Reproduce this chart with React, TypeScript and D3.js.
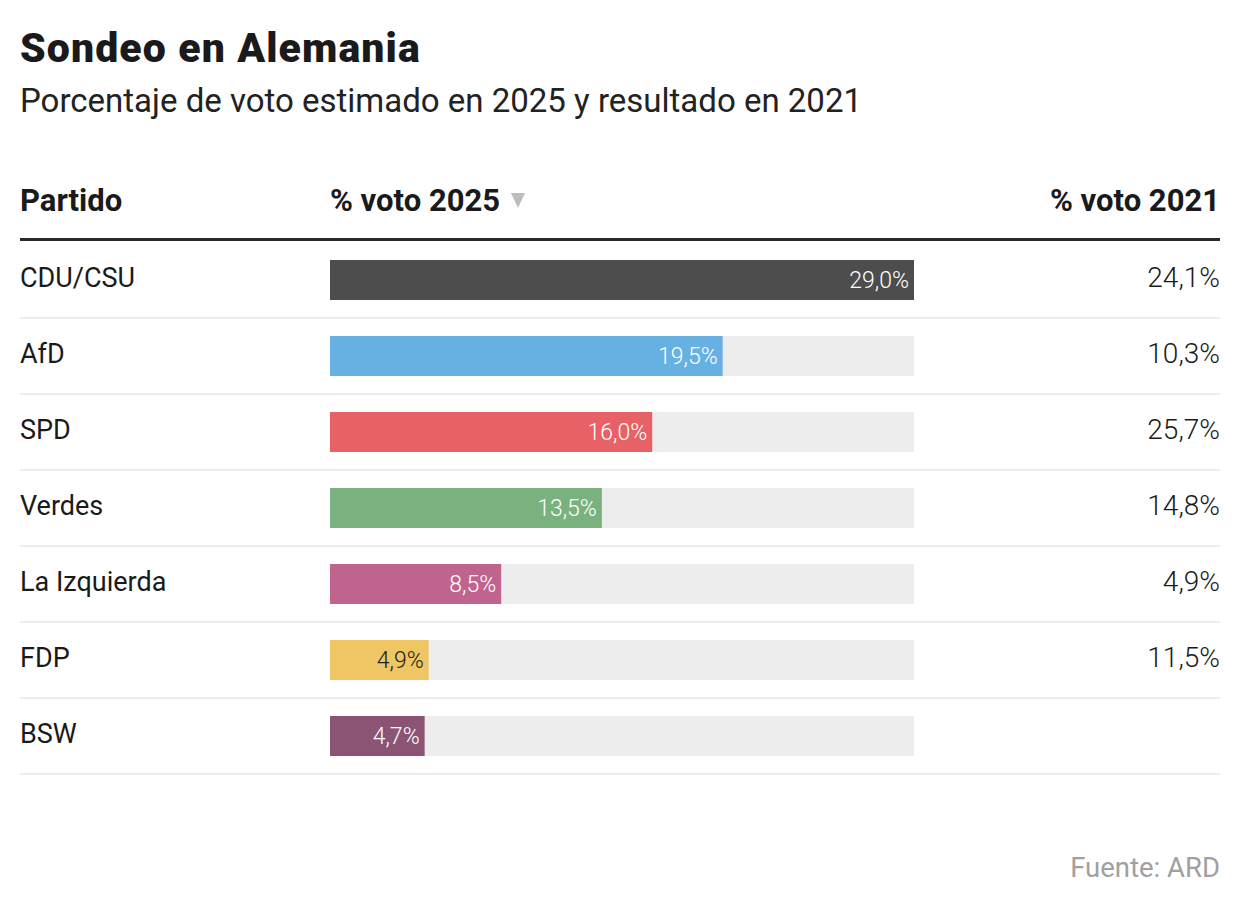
import React from "react";
import * as d3 from "d3";

const parties = ["CDU/CSU", "AfD", "SPD", "Verdes", "La Izquierda", "FDP", "BSW"];
const vote2025 = [29.0, 19.5, 16.0, 13.5, 8.5, 4.9, 4.7];
const vote2021: (number | null)[] = [24.1, 10.3, 25.7, 14.8, 4.9, 11.5, null];
const colors = ["#4d4d4d", "#67b0e2", "#e86166", "#79b27e", "#c0638e", "#efc663", "#8b5474"];
const labelColors = ["#fff", "#fff", "#fff", "#fff", "#fff", "#222", "#fff"];

const W = 1240;
const H = 908;
const fmt = (v: number) => v.toFixed(1).replace(".", ",") + "%";
const body = "Roboto, 'Noto Sans', sans-serif";

export default function App() {
  const x = d3.scaleLinear().domain([0, 29]).range([330, 914]);
  const y = d3.scaleBand().domain(parties).range([242, 774]).paddingInner(0).paddingOuter(0);
  const rowH = y.bandwidth();
  const barH = 40;
  return (
    <svg width={W} height={H} style={{ position: "absolute", left: 0, top: 0, background: "#fff" }}>
      <text x={20} y={62} fontFamily={body} fontWeight={900} fontSize={41} letterSpacing={1.1} fill="#1a1a1a">Sondeo en Alemania</text>
      <text x={20} y={112} fontFamily={body} fontSize={33} fill="#222">Porcentaje de voto estimado en 2025 y resultado en 2021</text>

      <text x={20} y={211} fontFamily={body} fontWeight={700} fontSize={31} fill="#1a1a1a">Partido</text>
      <text x={330} y={211} fontFamily={body} fontWeight={700} fontSize={31} fill="#1a1a1a">% voto 2025</text>
      <path d="M511,193 L525,193 L518,208 Z" fill="#bdbdbd" />
      <text x={1220} y={211} textAnchor="end" fontFamily={body} fontWeight={700} fontSize={31} fill="#1a1a1a">% voto 2021</text>
      <rect x={20} y={238} width={1200} height={3} fill="#2b2b2b" />

      {parties.map((p, i) => {
        const y0 = y(p)!;
        const cy = y0 + rowH / 2;
        const by = cy - barH / 2;
        const v21 = vote2021[i];
        return (
          <g key={p}>
            <text x={20} y={cy + 7} fontFamily={body} fontSize={27} fill="#1a1a1a">{p}</text>
            <rect x={x(0)} y={by} width={x(29) - x(0)} height={barH} fill="#ededed" />
            <rect x={x(0)} y={by} width={x(vote2025[i]) - x(0)} height={barH} fill={colors[i]} />
            <text x={x(vote2025[i]) - 5} y={cy + 8} textAnchor="end" fontFamily={body} fontWeight={300} fontSize={23} fill={labelColors[i]}>{fmt(vote2025[i])}</text>
            {v21 !== null && (
              <text x={1220} y={cy + 7} textAnchor="end" fontFamily={body} fontWeight={300} fontSize={28} fill="#1a1a1a">{fmt(v21)}</text>
            )}
            <rect x={20} y={y0 + rowH - 1} width={1200} height={2} fill="#ececec" />
          </g>
        );
      })}

      <text x={1220} y={877} textAnchor="end" fontFamily={body} fontSize={27.5} fill="#a0a0a0">Fuente: ARD</text>
    </svg>
  );
}
